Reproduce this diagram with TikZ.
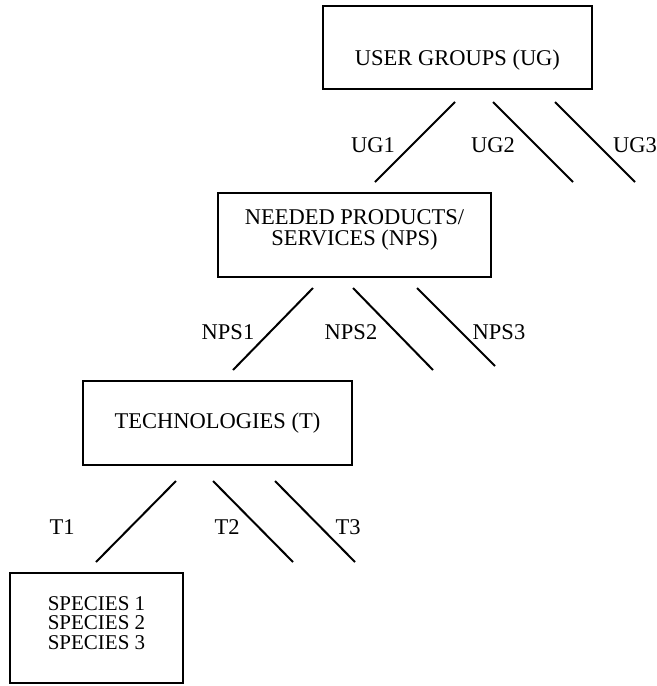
\documentclass[tikz,border=0pt]{standalone}
\usepackage{fontspec}
\setmainfont{Liberation Serif}

\begin{document}
\begin{tikzpicture}[
  x=0.5pt, y=-0.5pt,
  levelbox/.style={draw, line width=1pt, inner sep=0pt, align=center,
                   font=\fontsize{11.25}{10.5}\selectfont},
  edge/.style={draw, line width=1pt},
  tag/.style={inner sep=0pt, font=\fontsize{11.25}{13}\selectfont},
]
\useasboundingbox (0,0) rectangle (657,686);

% ── Level 1: user groups ───────────────────────────────────────────────
\node[levelbox, minimum width=134.5pt, minimum height=41.5pt,
      text height=20pt, text depth=2.5pt] (ug) at (457.5, 47.5) {USER GROUPS (UG)};

\coordinate (ug1a) at (455,102); \coordinate (ug1b) at (375,182);
\coordinate (ug2a) at (493,102); \coordinate (ug2b) at (573,182);
\coordinate (ug3a) at (555,102); \coordinate (ug3b) at (635,182);

\draw[edge] (ug1a) -- (ug1b);
\draw[edge] (ug2a) -- (ug2b);
\draw[edge] (ug3a) -- (ug3b);

\node[tag] (ug1) at (373,145) {UG1};
\node[tag] (ug2) at (493,145) {UG2};
\node[tag] (ug3) at (635,145) {UG3};

% ── Level 2: needed products / services ───────────────────────────────
\node[levelbox, minimum width=136.5pt, minimum height=42pt, text depth=7pt]
  (nps) at (354.5, 235) {NEEDED PRODUCTS/\\SERVICES (NPS)};

\coordinate (nps1a) at (313,288); \coordinate (nps1b) at (233,370);
\coordinate (nps2a) at (353,288); \coordinate (nps2b) at (433,370);
\coordinate (nps3a) at (417,288); \coordinate (nps3b) at (495,366);

\draw[edge] (nps1a) -- (nps1b);
\draw[edge] (nps2a) -- (nps2b);
\draw[edge] (nps3a) -- (nps3b);

\node[tag] (nps1) at (228,332) {NPS1};
\node[tag] (nps2) at (351,332) {NPS2};
\node[tag] (nps3) at (499,332) {NPS3};

% ── Level 3: technologies ──────────────────────────────────────────────
\node[levelbox, minimum width=134.5pt, minimum height=42pt] (tech) at (217.5, 423)
  {TECHNOLOGIES (T)};

\coordinate (t1a) at (176,481); \coordinate (t1b) at (96,562);
\coordinate (t2a) at (213,481); \coordinate (t2b) at (293,562);
\coordinate (t3a) at (275,481); \coordinate (t3b) at (355,562);

\draw[edge] (t1a) -- (t1b);
\draw[edge] (t2a) -- (t2b);
\draw[edge] (t3a) -- (t3b);

\node[tag] (t1) at (62,527)  {T1};
\node[tag] (t2) at (227,527) {T2};
\node[tag] (t3) at (348,527) {T3};

% ── Level 4: species ───────────────────────────────────────────────────
\node[levelbox, align=left, minimum width=86.5pt, minimum height=55pt,
      text depth=5pt, font=\fontsize{10.5}{9.6}\selectfont] (species) at (96.5, 628)
  {SPECIES 1\\SPECIES 2\\SPECIES 3};

\end{tikzpicture}
\end{document}
